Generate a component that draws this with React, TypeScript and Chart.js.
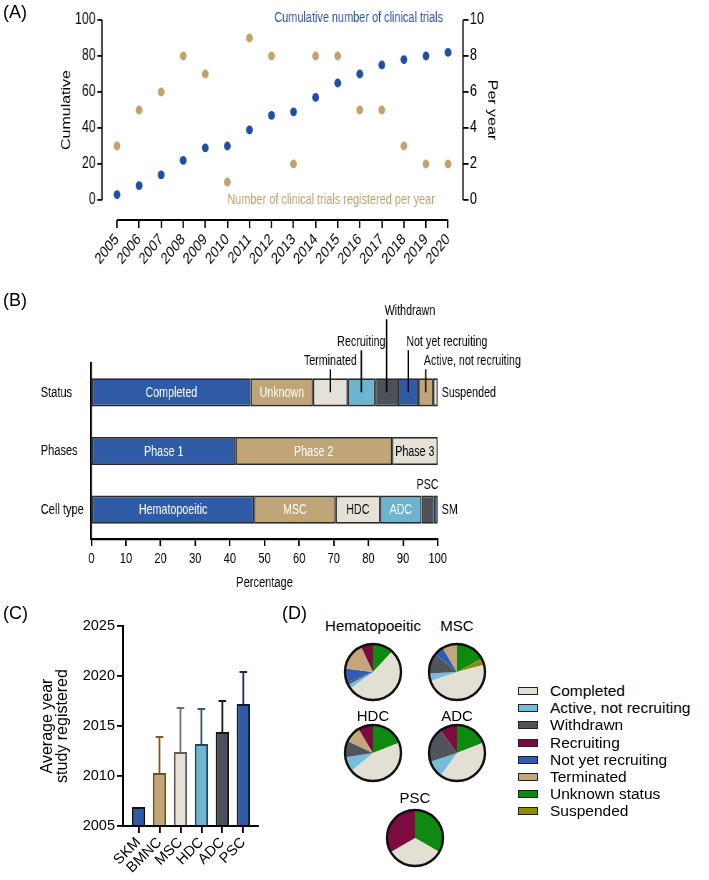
import React, { useEffect, useRef } from 'react';
import { Chart, registerables } from 'chart.js';

Chart.register(...registerables);

const REGULAR = "'Liberation Sans', Arial, Helvetica, sans-serif";
Chart.defaults.font.family = REGULAR;
Chart.defaults.color = '#000';

// ---------------- Panel A data ----------------
const years = [2005, 2006, 2007, 2008, 2009, 2010, 2011, 2012, 2013, 2014, 2015, 2016, 2017, 2018, 2019, 2020];
const cumulativeTrials = [3, 8, 14, 22, 29, 30, 39, 47, 49, 57, 65, 70, 75, 78, 80, 82];
const trialsPerYear = [3, 5, 6, 8, 7, 1, 9, 8, 2, 8, 8, 5, 5, 3, 2, 2];
const cumulativeTicks = [0, 20, 40, 60, 80, 100];
const perYearTicks = [0, 2, 4, 6, 8, 10];

// ---------------- Panel B data ----------------
const barRows = ['Status', 'Phases', 'Cell type'];
const statusNames = ['Completed', 'Unknown', 'Terminated', 'Recruiting', 'Withdrawn', 'Not yet recruiting', 'Active, not recruiting', 'Suspended'];
const statusPct = [46.0, 18.0, 10.0, 7.9, 6.7, 5.8, 4.3, 1.3];
const phaseNames = ['Phase 1', 'Phase 2', 'Phase 3'];
const phasePct = [41.6, 45.2, 13.2];
const cellNames = ['Hematopoeitic', 'MSC', 'HDC', 'ADC', 'PSC', 'SM'];
const cellPct = [47.0, 23.5, 12.9, 11.9, 3.5, 1.2];
const percentTicks = [0, 10, 20, 30, 40, 50, 60, 70, 80, 90, 100];

// ---------------- Panel C data ----------------
const cellTypesC = ['SKM', 'BMNC', 'MSC', 'HDC', 'ADC', 'PSC'];
const avgYear = [2006.9, 2010.3, 2012.4, 2013.2, 2014.4, 2017.2];
const sdYear = [0, 3.6, 4.4, 3.5, 3.1, 3.2];
const yearTicksC = [2005, 2010, 2015, 2020, 2025];

// ---------------- Panel D data ----------------
const pieStatuses = ['Unknown status', 'Suspended', 'Completed', 'Active, not recruiting', 'Withdrawn', 'Not yet recruiting', 'Terminated', 'Recruiting'];
const pieTitles = ['Hematopoeitic', 'MSC', 'HDC', 'ADC', 'PSC'];
const pieHematopoeitic = [12, 0, 53, 2.5, 1.5, 8, 16, 7];
const pieMSC = [17.2, 3.6, 49, 4.4, 11.7, 5.5, 8.6, 0];
const pieHDC = [19, 0, 45, 8.6, 9.4, 0, 9.4, 8.6];
const pieADC = [19, 0, 41, 10, 20, 0, 0, 10];
const piePSC = [33.3, 0, 33.3, 0, 0, 0, 0, 33.4];
const legendOrder = ['Completed', 'Active, not recruiting', 'Withdrawn', 'Recruiting', 'Not yet recruiting', 'Terminated', 'Unknown status', 'Suspended'];

// ---------------- styles ----------------
const SX = 0.78; // horizontal compression of panel A (as in the reference figure)
const SXB = 0.715; // horizontal compression of panel B
const BLUE = '#2150a3';
const TAN = '#c2a36f';
const BLUE_TEXT = '#2a4fae';
const TAN_TEXT = '#c0a06c';

const SEG_BLUE = '#2f5aa6';
const SEG_TAN = '#c0a578';
const SEG_BEIGE = '#e6e1d7';
const SEG_LBLUE = '#6cb4d0';
const SEG_GRAY = '#4d5258';

const statusColors = [SEG_BLUE, SEG_TAN, SEG_BEIGE, SEG_LBLUE, SEG_GRAY, SEG_BLUE, SEG_TAN, SEG_BEIGE];
const phaseColors = [SEG_BLUE, SEG_TAN, SEG_BEIGE];
const cellColors = [SEG_BLUE, SEG_TAN, SEG_BEIGE, SEG_LBLUE, SEG_GRAY, SEG_BLUE];

type Place = { m: 'in' | 'up' | 'right' | 'above' | 'none'; c?: string; lv?: number; a?: 'center' | 'left' };
const statusPlace: Place[] = [
  { m: 'in', c: '#fff' }, { m: 'in', c: '#fff' }, { m: 'up', lv: 3, a: 'center' }, { m: 'up', lv: 2, a: 'center' },
  { m: 'up', lv: 1, a: 'left' }, { m: 'up', lv: 2, a: 'left' }, { m: 'up', lv: 3, a: 'left' }, { m: 'right' },
];
const phasePlace: Place[] = [{ m: 'in', c: '#fff' }, { m: 'in', c: '#fff' }, { m: 'in', c: '#000' }];
const cellPlace: Place[] = [
  { m: 'in', c: '#fff' }, { m: 'in', c: '#fff' }, { m: 'in', c: '#000' }, { m: 'in', c: '#fff' }, { m: 'above' }, { m: 'right' },
];

const cFill = ['#2f5aa6', '#c2a677', '#e6e1d6', '#6eb5d2', '#4d5258', '#2f5aa6'];
const cBorder = ['#111111', '#6d5224', '#5c5c5c', '#1f4a5c', '#151515', '#111a33'];
const cErr = ['#111111', '#7a5a26', '#707070', '#2f5d70', '#1a1a1a', '#1c2c55'];

const STATUS_COLORS: Record<string, string> = {
  'Completed': '#e3dfd5',
  'Active, not recruiting': '#74bedb',
  'Withdrawn': '#50555b',
  'Recruiting': '#7d0b40',
  'Not yet recruiting': '#2f5db3',
  'Terminated': '#c3a679',
  'Unknown status': '#0f8a10',
  'Suspended': '#8f8a12',
};

// ---------------- Panel A ----------------
function panelAConfig(): any {
  const axisPlugin = {
    id: 'panelAAxes',
    afterDraw(chart: any) {
      const { ctx, chartArea, scales } = chart;
      const x = scales.x, y = scales.y, y1 = scales.y1;
      ctx.save();
      ctx.strokeStyle = '#000';
      ctx.lineWidth = 1.8;
      ctx.beginPath();
      ctx.moveTo(chartArea.left, y.getPixelForValue(cumulativeTicks[cumulativeTicks.length - 1]));
      ctx.lineTo(chartArea.left, y.getPixelForValue(cumulativeTicks[0]));
      ctx.moveTo(chartArea.right, y1.getPixelForValue(perYearTicks[perYearTicks.length - 1]));
      ctx.lineTo(chartArea.right, y1.getPixelForValue(perYearTicks[0]));
      ctx.moveTo(x.getPixelForValue(years[0]), chartArea.bottom);
      ctx.lineTo(x.getPixelForValue(years[years.length - 1]), chartArea.bottom);
      ctx.stroke();

      const midY = (y.getPixelForValue(0) + y.getPixelForValue(100)) / 2;
      ctx.fillStyle = '#000';
      ctx.font = `16px ${REGULAR}`;
      ctx.textAlign = 'center';
      ctx.textBaseline = 'middle';
      ctx.save();
      ctx.translate(chartArea.left - 35 / SX, midY);
      ctx.rotate(-Math.PI / 2);
      ctx.fillText('Cumulative', 0, 0);
      ctx.restore();
      ctx.save();
      ctx.translate(chartArea.right + 29 / SX, midY);
      ctx.rotate(Math.PI / 2);
      ctx.fillText('Per year', 0, 0);
      ctx.restore();

      ctx.font = `14px ${REGULAR}`;
      ctx.fillStyle = BLUE_TEXT;
      ctx.textAlign = 'right';
      ctx.fillText('Cumulative number of clinical trials', x.getPixelForValue(2020) - 5 / SX, y.getPixelForValue(100) - 2);
      ctx.fillStyle = TAN_TEXT;
      ctx.textAlign = 'left';
      ctx.fillText('Number of clinical trials registered per year', x.getPixelForValue(2010), y.getPixelForValue(0));
      ctx.restore();
    },
  };
  const tickGrid = { display: true, drawOnChartArea: false, drawTicks: true, color: '#000', lineWidth: 1.8 };
  return {
    type: 'scatter',
    data: {
      datasets: [
        {
          label: 'Number of clinical trials registered per year',
          data: years.map((yr, i) => ({ x: yr, y: trialsPerYear[i] })),
          yAxisID: 'y1',
          backgroundColor: TAN,
          borderColor: TAN,
          pointRadius: 4.4,
          pointBorderWidth: 0,
        },
        {
          label: 'Cumulative number of clinical trials',
          data: years.map((yr, i) => ({ x: yr, y: cumulativeTrials[i] })),
          yAxisID: 'y',
          backgroundColor: BLUE,
          borderColor: BLUE,
          pointRadius: 4.4,
          pointBorderWidth: 0,
        },
      ],
    },
    options: {
      responsive: false,
      animation: false,
      layout: { padding: { left: 60 / SX, right: 200 / SX, top: 20, bottom: 0 } },
      plugins: { legend: { display: false }, tooltip: { enabled: false } },
      scales: {
        x: {
          type: 'linear',
          position: 'bottom',
          offset: false,
          min: years[0] - 0.68,
          max: years[years.length - 1] + 0.68,
          afterBuildTicks: (s: any) => { s.ticks = years.map((v) => ({ value: v })); },
          afterFit: (s: any) => { s.height = 80; },
          ticks: {
            autoSkip: false,
            minRotation: 45,
            maxRotation: 45,
            padding: 2,
            font: { family: REGULAR, size: 16 },
            callback: (v: any) => String(v),
          },
          grid: { ...tickGrid, tickLength: 8 },
          border: { display: false },
        },
        y: {
          position: 'left',
          min: -11.11,
          max: 100,
          afterBuildTicks: (s: any) => { s.ticks = cumulativeTicks.map((v) => ({ value: v })); },
          afterFit: (s: any) => { s.width = 42 / SX; },
          ticks: { padding: 2, font: { family: REGULAR, size: 16 }, callback: (v: any) => String(v) },
          grid: { ...tickGrid, tickLength: 6 },
          border: { display: false },
        },
        y1: {
          position: 'right',
          min: -1.111,
          max: 10,
          afterBuildTicks: (s: any) => { s.ticks = perYearTicks.map((v) => ({ value: v })); },
          afterFit: (s: any) => { s.width = 46 / SX; },
          ticks: { padding: 2, font: { family: REGULAR, size: 16 }, callback: (v: any) => String(v) },
          grid: { ...tickGrid, tickLength: 7 },
          border: { display: false },
        },
      },
    },
    plugins: [axisPlugin],
  };
}

// ---------------- Panel B ----------------
function panelBConfig(): any {
  const rowsDef = [
    { names: statusNames, values: statusPct, colors: statusColors, place: statusPlace },
    { names: phaseNames, values: phasePct, colors: phaseColors, place: phasePlace },
    { names: cellNames, values: cellPct, colors: cellColors, place: cellPlace },
  ];
  const datasets: any[] = [];
  const places: { row: number; place: Place; name: string }[] = [];
  rowsDef.forEach((row, r) => {
    row.values.forEach((v, i) => {
      datasets.push({
        label: row.names[i],
        data: barRows.map((_, k) => (k === r ? v : null)),
        backgroundColor: row.colors[i],
        borderColor: '#2a2a2a',
        borderWidth: 1.8,
        borderSkipped: false,
        barPercentage: 0.48,
        categoryPercentage: 1,
      });
      places.push({ row: r, place: row.place[i], name: row.names[i] });
    });
  });
  const levelOffset: Record<number, number> = { 1: 67, 2: 36, 3: 17 };
  const labelPlugin = {
    id: 'panelBLabels',
    afterDatasetsDraw(chart: any) {
      const { ctx, chartArea } = chart;
      ctx.save();
      ctx.font = `15px ${REGULAR}`;
      ctx.textBaseline = 'middle';
      places.forEach((p, di) => {
        const el = chart.getDatasetMeta(di).data[p.row];
        if (!el) return;
        const { x, y, base, height } = el.getProps(['x', 'y', 'base', 'height'], true);
        const cx = (x + base) / 2;
        const top = y - height / 2;
        const pl = p.place;
        if (pl.m === 'in') {
          ctx.fillStyle = pl.c || '#fff';
          ctx.textAlign = 'center';
          ctx.fillText(p.name, cx, y + 0.5);
        } else if (pl.m === 'up') {
          const ty = top - levelOffset[pl.lv || 1];
          ctx.strokeStyle = '#000';
          ctx.lineWidth = 2;
          ctx.beginPath();
          ctx.moveTo(cx, ty + 8);
          ctx.lineTo(cx, y);
          ctx.stroke();
          ctx.fillStyle = '#000';
          if (pl.a === 'left') {
            ctx.textAlign = 'left';
            ctx.fillText(p.name, cx - 2 / SXB, ty);
          } else {
            ctx.textAlign = 'center';
            ctx.fillText(p.name, cx, ty);
          }
        } else if (pl.m === 'right') {
          ctx.fillStyle = '#000';
          ctx.textAlign = 'left';
          ctx.fillText(p.name, chartArea.right + 4 / SXB, y + 0.5);
        } else if (pl.m === 'above') {
          ctx.fillStyle = '#000';
          ctx.textAlign = 'center';
          ctx.fillText(p.name, cx, top - 11);
        }
      });
      ctx.restore();
    },
  };
  return {
    type: 'bar',
    data: { labels: barRows, datasets },
    options: {
      indexAxis: 'y',
      responsive: false,
      animation: false,
      layout: { padding: { left: 40.7 / SXB, right: Math.round(709 / SXB) - 437.7 / SXB, top: 63, bottom: 0 } },
      plugins: { legend: { display: false }, tooltip: { enabled: false } },
      scales: {
        x: {
          type: 'linear',
          stacked: true,
          min: 0,
          max: 100,
          afterBuildTicks: (s: any) => { s.ticks = percentTicks.map((v) => ({ value: v })); },
          afterFit: (s: any) => { s.height = 61; },
          ticks: { padding: 3, font: { family: REGULAR, size: 15.5 }, callback: (v: any) => String(v) },
          grid: { display: true, drawOnChartArea: false, drawTicks: true, tickLength: 7, color: '#000', lineWidth: 2.2 },
          border: { display: true, color: '#000', width: 2.2 },
          title: { display: true, text: 'Percentage', font: { family: REGULAR, size: 15.5 }, padding: { top: 0, bottom: 8 } },
        },
        y: {
          type: 'category',
          stacked: true,
          offset: true,
          afterFit: (s: any) => { s.width = (91.3 - 40.7) / SXB; },
          ticks: { crossAlign: 'far', font: { family: REGULAR, size: 15.5 } },
          grid: { display: false },
          border: { display: true, color: '#000', width: 2.6 },
        },
      },
    },
    plugins: [labelPlugin],
  };
}

// ---------------- Panel C ----------------
function panelCConfig(): any {
  const errPlugin = {
    id: 'errorBars',
    afterDatasetsDraw(chart: any) {
      const { ctx } = chart;
      const ys = chart.scales.y;
      const meta = chart.getDatasetMeta(0);
      ctx.save();
      ctx.lineWidth = 1.8;
      meta.data.forEach((el: any, i: number) => {
        if (!sdYear[i]) return;
        const topPx = ys.getPixelForValue(avgYear[i] + sdYear[i]);
        ctx.strokeStyle = cErr[i];
        ctx.beginPath();
        ctx.moveTo(el.x, el.y);
        ctx.lineTo(el.x, topPx);
        ctx.moveTo(el.x - 3.8, topPx);
        ctx.lineTo(el.x + 3.8, topPx);
        ctx.stroke();
      });
      ctx.restore();
    },
  };
  return {
    type: 'bar',
    data: {
      datasets: [
        {
          label: 'Average year study registered',
          data: avgYear.map((v, i) => ({ x: i, y: v })),
          backgroundColor: cFill,
          borderColor: cBorder,
          borderWidth: 2,
          base: yearTicksC[0],
          barPercentage: 0.64,
          categoryPercentage: 1,
        },
      ],
    },
    options: {
      responsive: false,
      animation: false,
      layout: { padding: { left: 39.5, right: 32, top: 26, bottom: 0 } },
      plugins: { legend: { display: false }, tooltip: { enabled: false } },
      scales: {
        x: {
          type: 'linear',
          offset: false,
          min: -0.74,
          max: cellTypesC.length - 1 + 0.7,
          afterBuildTicks: (s: any) => { s.ticks = cellTypesC.map((_, i) => ({ value: i })); },
          afterFit: (s: any) => { s.height = 54; },
          ticks: {
            autoSkip: false,
            minRotation: 45,
            maxRotation: 45,
            padding: 1,
            font: { family: REGULAR, size: 14.5 },
            callback: (v: any) => cellTypesC[v] ?? '',
          },
          grid: { display: true, offset: false, drawOnChartArea: false, drawTicks: true, tickLength: 7, color: '#000', lineWidth: 1.8 },
          border: { display: true, color: '#000', width: 2 },
        },
        y: {
          min: yearTicksC[0],
          max: yearTicksC[yearTicksC.length - 1],
          afterBuildTicks: (s: any) => { s.ticks = yearTicksC.map((v) => ({ value: v })); },
          afterFit: (s: any) => { s.width = 83.5; },
          ticks: { padding: 2, font: { family: REGULAR, size: 14.5 }, callback: (v: any) => String(v) },
          grid: { display: true, drawOnChartArea: false, drawTicks: true, tickLength: 6, color: '#000', lineWidth: 1.8 },
          border: { display: true, color: '#000', width: 2 },
          title: {
            display: true,
            text: ['Average year', 'study registered'],
            font: { family: REGULAR, size: 16, lineHeight: 0.95 },
            padding: 0,
          },
        },
      },
    },
    plugins: [errPlugin],
  };
}

// ---------------- Panel D ----------------
function pieConfig(values: number[]): any {
  const ring = {
    id: 'ring',
    afterDatasetsDraw(chart: any) {
      const el = chart.getDatasetMeta(0).data[0];
      if (!el) return;
      const { ctx } = chart;
      ctx.save();
      ctx.strokeStyle = '#111';
      ctx.lineWidth = 2.4;
      ctx.beginPath();
      ctx.arc(el.x, el.y, el.outerRadius, 0, Math.PI * 2);
      ctx.stroke();
      ctx.restore();
    },
  };
  return {
    type: 'pie',
    data: {
      labels: pieStatuses,
      datasets: [{ data: values, backgroundColor: pieStatuses.map((s) => STATUS_COLORS[s]), borderWidth: 0 }],
    },
    options: {
      responsive: false,
      animation: false,
      layout: { padding: 3 },
      plugins: { legend: { display: false }, tooltip: { enabled: false } },
    },
    plugins: [ring],
  };
}

// ---------------- components ----------------
function ChartBox({ left, top, width, height, make, scaleX = 1 }: { left: number; top: number; width: number; height: number; make: () => any; scaleX?: number }) {
  const ref = useRef<HTMLCanvasElement>(null);
  useEffect(() => {
    if (!ref.current) return;
    const chart = new Chart(ref.current, make());
    return () => chart.destroy();
  }, []);
  return (
    <canvas
      ref={ref}
      width={width}
      height={height}
      style={{
        position: 'absolute',
        left,
        top,
        width,
        height,
        display: 'block',
        transform: scaleX !== 1 ? `scaleX(${scaleX})` : undefined,
        transformOrigin: '0 0',
      }}
    />
  );
}

function Txt({ x, y, text, size = 15, align = 'center' }: { x: number; y: number; text: string; size?: number; align?: 'center' | 'left' }) {
  return (
    <div
      style={{
        position: 'absolute',
        left: x,
        top: y,
        transform: align === 'center' ? 'translate(-50%, -50%)' : 'translate(0, -50%)',
        fontSize: size,
        fontFamily: REGULAR,
        lineHeight: 1,
        whiteSpace: 'nowrap',
        color: '#000',
      }}
    >
      {text}
    </div>
  );
}

const pieData = [pieHematopoeitic, pieMSC, pieHDC, pieADC, piePSC];
const pieCenters = [[373, 672], [457, 672], [373, 753], [457, 753], [415, 838]];
const pieTitleY = [625, 625, 715, 715, 797];
const PIE_SIZE = 62;

export default function App() {
  return (
    <div style={{ position: 'absolute', left: 0, top: 0, width: 709, height: 880, background: '#fff', overflow: 'hidden' }}>
      <ChartBox left={0} top={0} width={Math.round(709 / SX)} height={300} make={panelAConfig} scaleX={SX} />
      <ChartBox left={0} top={300} width={Math.round(709 / SXB)} height={300} make={panelBConfig} scaleX={SXB} />
      <ChartBox left={0} top={600} width={290} height={280} make={panelCConfig} />
      {pieData.map((vals, i) => (
        <ChartBox
          key={pieTitles[i]}
          left={pieCenters[i][0] - PIE_SIZE / 2}
          top={pieCenters[i][1] - PIE_SIZE / 2}
          width={PIE_SIZE}
          height={PIE_SIZE}
          make={() => pieConfig(vals)}
        />
      ))}
      {pieTitles.map((t, i) => (
        <Txt key={'t' + t} x={pieCenters[i][0]} y={pieTitleY[i]} text={t} size={15} />
      ))}
      {legendOrder.map((s, i) => (
        <React.Fragment key={'lg' + s}>
          <div
            style={{
              position: 'absolute',
              left: 518,
              top: 691 + i * 17.2 - 4,
              width: 18,
              height: 6,
              background: STATUS_COLORS[s],
              border: '1.5px solid #222',
            }}
          />
          <Txt x={550} y={691 + i * 17.2} text={s} size={15.5} align="left" />
        </React.Fragment>
      ))}
      <Txt x={3} y={12} text="(A)" size={18} align="left" />
      <Txt x={3} y={300} text="(B)" size={18} align="left" />
      <Txt x={3} y={613} text="(C)" size={18} align="left" />
      <Txt x={282} y={613} text="(D)" size={18} align="left" />
    </div>
  );
}
